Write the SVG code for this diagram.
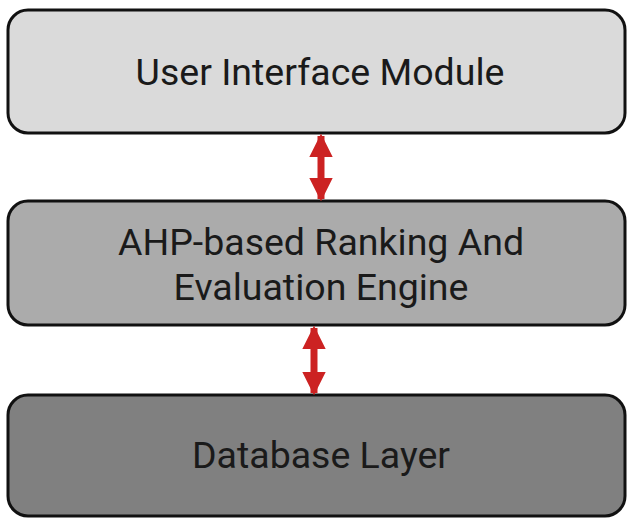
<svg xmlns="http://www.w3.org/2000/svg" width="628" height="518" viewBox="0 0 628 518">
<style>
.box{stroke:#111;stroke-width:3}
.lbl{font-family:Roboto,"Liberation Sans",sans-serif;font-size:37.5px;fill:#1a1a1a;text-anchor:middle}
.conn{stroke:#cc2222;stroke-width:7;fill:none}
</style>
<defs>
<marker id="ah" viewBox="0 0 10 10" refX="9" refY="5" markerWidth="3.4" markerHeight="3.4" orient="auto-start-reverse" markerUnits="strokeWidth">
<path d="M0,0 L10,5 L0,10 z" fill="#cc2222"/>
</marker>
</defs>
<rect width="628" height="518" fill="#fff"/>
<g id="node-ui">
<rect class="box" x="8" y="10" width="617" height="123" rx="20" fill="#dadada"/>
<text class="lbl" x="320" y="85">User Interface Module</text>
</g>
<g id="node-ahp">
<rect class="box" x="8" y="201" width="617" height="124" rx="20" fill="#ababab"/>
<text class="lbl" x="321" y="255">AHP-based Ranking And</text>
<text class="lbl" x="321" y="300">Evaluation Engine</text>
</g>
<g id="node-db">
<rect class="box" x="8" y="395" width="617" height="121" rx="20" fill="#808080"/>
<text class="lbl" x="321" y="468">Database Layer</text>
</g>
<g id="connectors">
<line class="conn" x1="321" y1="136" x2="321" y2="199" marker-start="url(#ah)" marker-end="url(#ah)"/>
<line class="conn" x1="314" y1="328" x2="314" y2="393" marker-start="url(#ah)" marker-end="url(#ah)"/>
</g>
</svg>
